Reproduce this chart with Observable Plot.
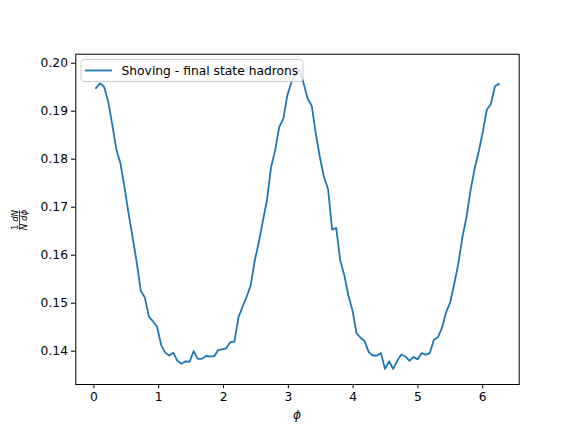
<!DOCTYPE html>
<html>
<head>
<meta charset="utf-8">
<script src="https://cdn.jsdelivr.net/npm/d3@7"></script>
<script src="https://cdn.jsdelivr.net/npm/@observablehq/plot@0.6"></script>
<style>
  html, body { margin: 0; padding: 0; background: #fff; }
  #chart svg { display: block; font-family: "DejaVu Sans", sans-serif; }
</style>
</head>
<body>
<div id="chart"></div>
<script>
// Bin centres of phi (100 bins over 0..2pi)
const phi = [
  0.031, 0.094, 0.157, 0.220, 0.283, 0.346, 0.408, 0.471, 0.534, 0.597,
  0.660, 0.723, 0.785, 0.848, 0.911, 0.974, 1.037, 1.100, 1.162, 1.225,
  1.288, 1.351, 1.414, 1.477, 1.539, 1.602, 1.665, 1.728, 1.791, 1.854,
  1.916, 1.979, 2.042, 2.105, 2.168, 2.231, 2.293, 2.356, 2.419, 2.482,
  2.545, 2.608, 2.670, 2.733, 2.796, 2.859, 2.922, 2.985, 3.047, 3.110,
  3.173, 3.236, 3.299, 3.362, 3.424, 3.487, 3.550, 3.613, 3.676, 3.739,
  3.801, 3.864, 3.927, 3.990, 4.053, 4.116, 4.178, 4.241, 4.304, 4.367,
  4.430, 4.492, 4.555, 4.618, 4.681, 4.744, 4.807, 4.869, 4.932, 4.995,
  5.058, 5.121, 5.184, 5.246, 5.309, 5.372, 5.435, 5.498, 5.560, 5.623,
  5.686, 5.749, 5.812, 5.875, 5.937, 6.000, 6.063, 6.126, 6.189, 6.252
];
// (1/N) dN/dphi, Shoving - final state hadrons
const shoving = [
  0.1948, 0.1958, 0.1951, 0.1920, 0.1872, 0.1820, 0.1792, 0.1742, 0.1687, 0.1637,
  0.1585, 0.1526, 0.1512, 0.1472, 0.1462, 0.1451, 0.1413, 0.1397, 0.1391, 0.1397,
  0.1380, 0.1374, 0.1379, 0.1378, 0.1400, 0.1384, 0.1384, 0.1390, 0.1389, 0.1389,
  0.1402, 0.1404, 0.1406, 0.1419, 0.1420, 0.1471, 0.1492, 0.1513, 0.1537, 0.1589,
  0.1627, 0.1672, 0.1714, 0.1783, 0.1818, 0.1867, 0.1884, 0.1933, 0.1960, 0.1978,
  0.1986, 0.1958, 0.1926, 0.1911, 0.1853, 0.1804, 0.1763, 0.1738, 0.1653, 0.1657,
  0.1589, 0.1558, 0.1516, 0.1485, 0.1437, 0.1428, 0.1421, 0.1398, 0.1391, 0.1391,
  0.1396, 0.1363, 0.1379, 0.1363, 0.1380, 0.1393, 0.1389, 0.1380, 0.1388, 0.1383,
  0.1396, 0.1393, 0.1396, 0.1424, 0.1429, 0.1449, 0.1481, 0.1502, 0.1540, 0.1582,
  0.1637, 0.1679, 0.1735, 0.1780, 0.1815, 0.1856, 0.1903, 0.1915, 0.1952, 0.1957
];
const xTicks = [0, 1, 2, 3, 4, 5, 6];
const yTicks = [0.14, 0.15, 0.16, 0.17, 0.18, 0.19, 0.20];
const seriesName = "Shoving - final state hadrons";

const data = phi.map((p, i) => ({phi: p, v: shoving[i]}));

const W = 568, H = 429;
const mL = 75.3, mR = 49.3, mT = 53.7, mB = 45;
const FS = 12.3;

const chart = Plot.plot({
  width: W, height: H,
  marginLeft: mL, marginRight: mR, marginTop: mT, marginBottom: mB,
  style: {fontSize: FS + "px", fontFamily: "DejaVu Sans, sans-serif", color: "#000", background: "#fff"},
  x: {domain: [-0.280, 6.563], label: null},
  y: {domain: [0.13306, 0.20188], label: null},
  marks: [
    Plot.line(data, {x: "phi", y: "v", stroke: "#1f77b4", strokeWidth: 1.8}),
    Plot.frame({stroke: "#000", strokeWidth: 1}),
    Plot.axisX({ticks: xTicks, tickFormat: d => String(d), tickSize: 4.3, tickPadding: 3, label: null, fontSize: FS}),
    Plot.axisY({ticks: yTicks, tickFormat: d3.format(".2f"), tickSize: 4.3, tickPadding: 3.5, label: null, fontSize: FS})
  ]
});
document.getElementById("chart").appendChild(chart);

const svg = d3.select(chart);
// x label
svg.append("text")
  .attr("x", (mL + (W - mR)) / 2).attr("y", 419)
  .attr("text-anchor", "middle").attr("font-size", FS).attr("font-style", "italic")
  .attr("fill", "#000").text("ϕ");

// y label: fraction (1/N)(dN/dϕ)
const yl = svg.append("g").attr("transform", "translate(19.5,220) rotate(-90)")
  .attr("font-size", 8.6).attr("fill", "#000");
const num = yl.append("text").attr("x", 0).attr("y", -2).attr("text-anchor", "middle");
num.append("tspan").text("1 ");
num.append("tspan").attr("font-style", "italic").text("dN");
yl.append("line").attr("x1", -10).attr("x2", 10).attr("y1", 0).attr("y2", 0)
  .attr("stroke", "#000").attr("stroke-width", 0.7);
const den = yl.append("text").attr("x", 0).attr("y", 7.5).attr("text-anchor", "middle");
den.append("tspan").attr("font-style", "italic").text("N dϕ");

// legend
const lg = svg.append("g");
lg.append("rect").attr("x", 81).attr("y", 59.5).attr("width", 222).attr("height", 22).attr("rx", 3)
  .attr("fill", "#fff").attr("fill-opacity", 0.8).attr("stroke", "#cccccc").attr("stroke-width", 1);
lg.append("line").attr("x1", 85).attr("x2", 112).attr("y1", 70.5).attr("y2", 70.5)
  .attr("stroke", "#1f77b4").attr("stroke-width", 1.8);
lg.append("text").attr("x", 121.5).attr("y", 74.9).attr("font-size", FS).attr("fill", "#000")
  .attr("text-anchor", "start").text(seriesName);
</script>
</body>
</html>
